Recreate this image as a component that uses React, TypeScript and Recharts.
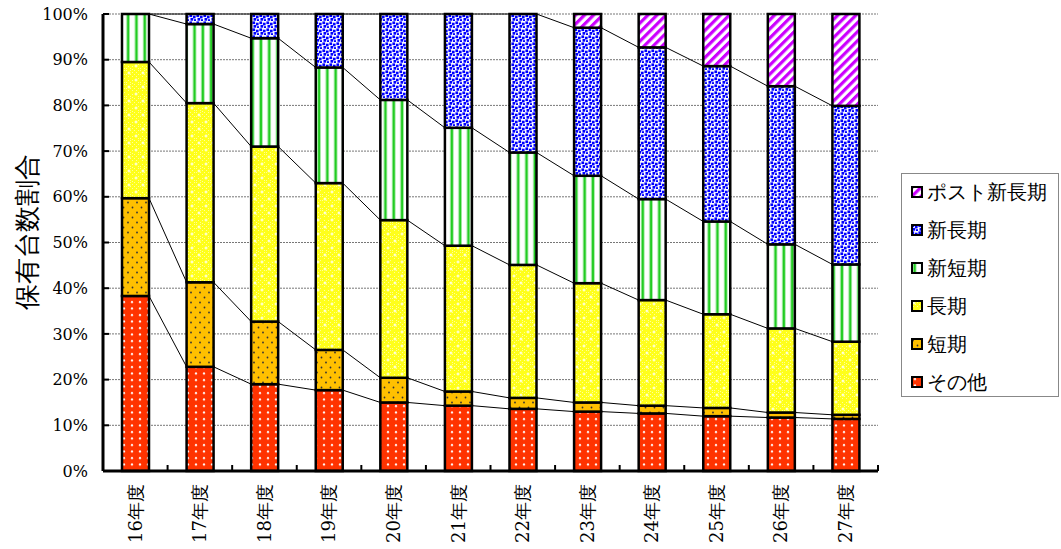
import { BarChart, Bar, XAxis, YAxis, CartesianGrid } from 'recharts';

// 保有台数割合 (%) by fiscal year
const categories = ['16年度', '17年度', '18年度', '19年度', '20年度', '21年度', '22年度', '23年度', '24年度', '25年度', '26年度', '27年度'];
const other = [38.3, 22.8, 19.0, 17.7, 15.0, 14.3, 13.6, 13.0, 12.6, 12.0, 11.7, 11.4];
const shortTerm = [21.4, 18.5, 13.7, 8.8, 5.4, 3.1, 2.4, 2.0, 1.7, 1.8, 1.1, 0.9];
const longTerm = [29.8, 39.2, 38.3, 36.5, 34.5, 31.9, 29.1, 26.1, 23.1, 20.5, 18.4, 16.0];
const newShort = [10.5, 17.3, 23.7, 25.3, 26.3, 25.8, 24.6, 23.5, 22.1, 20.3, 18.4, 16.9];
const newLong = [0, 2.2, 5.3, 11.7, 18.8, 24.9, 30.3, 32.4, 33.2, 34.0, 34.6, 34.7];
const postNewLong = [0, 0, 0, 0, 0, 0, 0, 3.0, 7.3, 11.4, 15.8, 20.1];
const yTicks = [0, 10, 20, 30, 40, 50, 60, 70, 80, 90, 100];

const seriesValues = [other, shortTerm, longTerm, newShort, newLong, postNewLong];
const seriesKeys = ['other', 'short', 'long', 'newShort', 'newLong', 'post'];
const seriesNames = ['その他', '短期', '長期', '新短期', '新長期', 'ポスト新長期'];
const seriesFills = ['url(#pOther)', 'url(#pShort)', 'url(#pLong)', 'url(#pNewShort)', 'url(#pNewLong)', 'url(#pPost)'];

const chartData = categories.map((name, i) => {
  const row: Record<string, number | string> = { name };
  seriesKeys.forEach((k, s) => (row[k] = seriesValues[s][i]));
  return row;
});

// cumulative tops for the series lines between bars
const cumulative = seriesValues.slice(0, 5).map((_, s) =>
  categories.map((_, i) => seriesValues.slice(0, s + 1).reduce((sum, arr) => sum + arr[i], 0))
);

const W = 1061;
const H = 549;
const LEFT = 103;
const RIGHT = 183;
const TOP = 14;
const BOTTOM = 78;
const BAND = (W - LEFT - RIGHT) / categories.length;

const serif = '"DejaVu Serif", "Liberation Serif", serif';

const Patterns = () => (
  <svg width={0} height={0} style={{ position: 'absolute' }}>
    <defs>
      <pattern id="pOther" width={8} height={6.5} patternUnits="userSpaceOnUse">
        <rect width={8} height={6.5} fill="#FF3300" />
        <circle cx={4} cy={3} r={1.1} fill="#fff" />
      </pattern>
      <pattern id="pShort" width={9} height={10} patternUnits="userSpaceOnUse">
        <rect width={9} height={10} fill="#FFC000" />
        <circle cx={2} cy={2.5} r={0.9} fill="#333" />
        <circle cx={6.5} cy={7.5} r={0.9} fill="#333" />
      </pattern>
      <pattern id="pLong" width={14} height={14} patternUnits="userSpaceOnUse">
        <rect width={14} height={14} fill="#FFFF1A" />
        <path
          d="M0 0h1v1h-1zM2 2h1v1h-1zM4 0h1v1h-1zM6 2h1v1h-1zM8 0h1v1h-1zM10 2h1v1h-1zM12 0h1v1h-1zM0 4h1v1h-1zM4 4h1v1h-1zM8 4h1v1h-1zM12 4h1v1h-1zM2 6h1v1h-1zM6 6h1v1h-1zM10 6h1v1h-1zM0 12h1v1h-1zM4 12h1v1h-1zM12 12h1v1h-1zM2 10h1v1h-1zM6 10h1v1h-1zM12 8h1v1h-1zM6 13h1v1h-1z"
          fill="#FFFF99"
        />
        <path d="M3 1.5v3M1.5 3h3M10 8.5v3M8.5 10h3" stroke="#fff" strokeWidth={1} />
      </pattern>
      <pattern id="pNewShort" width={8.3} height={4} patternUnits="userSpaceOnUse">
        <rect width={8.3} height={4} fill="#fff" />
        <rect x={2.3} width={2.6} height={4} fill="#22CC22" />
        <rect x={1.7} width={0.6} height={4} fill="#99E699" />
        <rect x={4.9} width={0.6} height={4} fill="#99E699" />
      </pattern>
      <pattern id="pNewLong" width={7} height={7} patternUnits="userSpaceOnUse">
        <rect width={7} height={7} fill="#fff" />
        <rect x={0.4} y={0.4} width={2.7} height={2.7} fill="#0000FF" />
        <rect x={3.9} y={1.7} width={2.7} height={2.7} fill="#0000FF" />
        <rect x={1.5} y={4} width={2.7} height={2.7} fill="#0000FF" />
        <rect x={5} y={5.2} width={2} height={1.8} fill="#0000FF" />
      </pattern>
      <pattern id="pPost" width={6.4} height={6.4} patternUnits="userSpaceOnUse" patternTransform="rotate(45)">
        <rect width={6.4} height={6.4} fill="#fff" />
        <rect width={3.2} height={6.4} fill="#CC00FF" />
      </pattern>
    </defs>
  </svg>
);

const makeShape = (s: number) => (props: any) => {
  const { x, y, width, height, index } = props;
  const els = [];
  if (height > 0.05) {
    els.push(
      <rect key="r" x={x} y={y} width={width} height={height} fill={seriesFills[s]} stroke="#000" strokeWidth={2.5} />
    );
  }
  // series lines drawn once from the bottom segment, which is never empty
  if (s === 0 && index < categories.length - 1 && height > 0) {
    const base = y + height;
    const ppu = height / other[index];
    cumulative.forEach((cum, k) => {
      els.push(
        <line
          key={'l' + k}
          x1={x + width}
          y1={base - cum[index] * ppu}
          x2={x + BAND}
          y2={base - cum[index + 1] * ppu}
          stroke="#000"
          strokeWidth={1}
        />
      );
    });
  }
  return <g>{els}</g>;
};

const XTick = (props: any) => {
  const { x, y, payload } = props;
  return (
    <g>
      <line x1={x + BAND / 2} y1={y - 6} x2={x + BAND / 2} y2={y} stroke="#000" strokeWidth={2} />
      <g transform={`translate(${x},${y + 13}) rotate(-90)`}>
        <text textAnchor="end" dy="0.35em" fontSize={18} fontFamily={serif} fill="#000">
          {payload.value}
        </text>
      </g>
    </g>
  );
};

const YTick = (props: any) => {
  const { x, y, payload } = props;
  return (
    <g>
      <line x1={x} y1={y} x2={x + 6} y2={y} stroke="#000" strokeWidth={2} />
      <text x={x - 15} y={y} dy="0.35em" textAnchor="end" fontSize={16} fontFamily={serif} fill="#000">
        {payload.value}%
      </text>
    </g>
  );
};

export default function App() {
  return (
    <div style={{ position: 'absolute', left: 0, top: 0, width: W, height: H, background: '#fff' }}>
      <Patterns />
      <BarChart
        width={W}
        height={H}
        data={chartData}
        margin={{ top: TOP, right: RIGHT, left: 0, bottom: 0 }}
        barSize={27}
      >
        <CartesianGrid vertical={false} stroke="#777" strokeDasharray="2 1" />
        <XAxis
          dataKey="name"
          interval={0}
          height={BOTTOM}
          tickSize={0}
          tickMargin={0}
          tickLine={false}
          axisLine={{ stroke: '#000', strokeWidth: 3 }}
          tick={<XTick />}
        />
        <XAxis
          xAxisId="top"
          dataKey="name"
          orientation="top"
          height={0}
          tick={false}
          tickLine={false}
          axisLine={{ stroke: '#888', strokeWidth: 2 }}
        />
        <YAxis
          type="number"
          domain={[0, 100]}
          ticks={yTicks}
          interval={0}
          width={LEFT}
          tickSize={0}
          tickMargin={0}
          tickLine={false}
          axisLine={{ stroke: '#000', strokeWidth: 3 }}
          tick={<YTick />}
        />
        <YAxis
          yAxisId="right"
          type="number"
          domain={[0, 100]}
          orientation="right"
          width={0}
          tick={false}
          tickLine={false}
          axisLine={{ stroke: '#888', strokeWidth: 2 }}
        />
        {seriesKeys.map((k, s) => (
          <Bar
            key={k}
            dataKey={k}
            name={seriesNames[s]}
            stackId="a"
            fill={seriesFills[s]}
            shape={makeShape(s)}
            isAnimationActive={false}
          />
        ))}
      </BarChart>
      <div
        style={{
          position: 'absolute',
          left: 27,
          top: 232,
          transform: 'translate(-50%, -50%) rotate(-90deg)',
          whiteSpace: 'nowrap',
          fontSize: 26,
          fontFamily: serif,
          lineHeight: 1,
        }}
      >
        保有台数割合
      </div>
      <div
        style={{
          position: 'absolute',
          left: 901,
          top: 173,
          width: 156,
          height: 222,
          border: '1px solid #888',
          fontFamily: serif,
          fontSize: 20,
        }}
      >
        {seriesNames
          .map((n, s) => ({ n, s }))
          .reverse()
          .map(({ n, s }, i) => (
            <div
              key={n}
              style={{ position: 'absolute', left: 9, top: 6 + i * 38, height: 24, display: 'flex', alignItems: 'center' }}
            >
              <svg width={12} height={12} style={{ marginRight: 4 }}>
                <rect x={1} y={1} width={10} height={10} fill={seriesFills[s]} stroke="#000" strokeWidth={2} />
              </svg>
              <span style={{ lineHeight: 1 }}>{n}</span>
            </div>
          ))}
      </div>
    </div>
  );
}
